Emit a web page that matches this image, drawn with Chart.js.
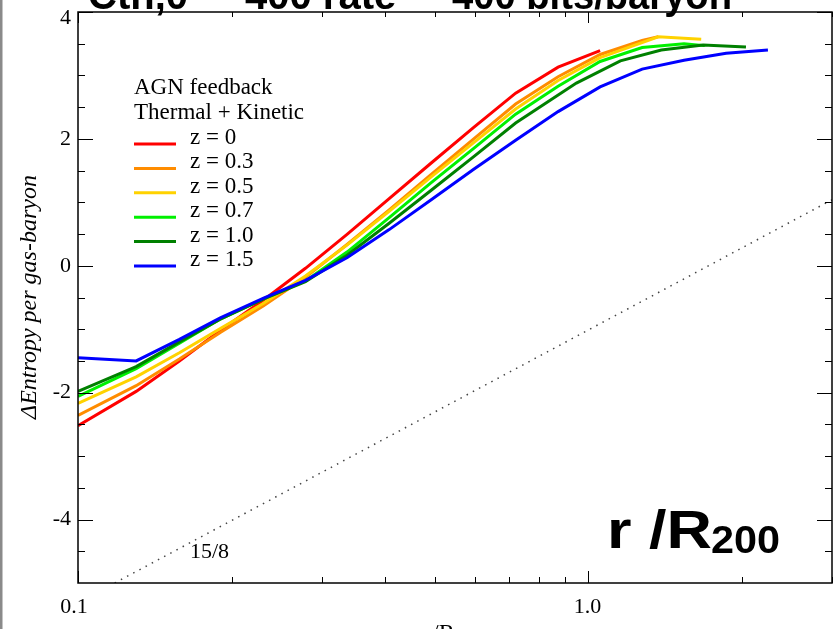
<!DOCTYPE html>
<html>
<head>
<meta charset="utf-8">
<script src="https://cdn.jsdelivr.net/npm/chart.js@4.4.1/dist/chart.umd.min.js"></script>
<style>
  html, body { margin: 0; padding: 0; background: #fff; }
  canvas { display: block; }
</style>
</head>
<body>
<canvas id="entropyChart" width="833" height="629" style="width:833px;height:629px"></canvas>
<script>
// r / R200 bins and delta entropy per gas-baryon
const rZ0  = [0.1, 0.130, 0.158, 0.190, 0.231, 0.279, 0.337, 0.407, 0.492, 0.596, 0.720, 0.872, 1.054];
const sZ0  = [-2.52, -1.98, -1.50, -1.02, -0.54, -0.04, 0.50, 1.06, 1.62, 2.18, 2.72, 3.13, 3.39];

const rZ03 = [0.1, 0.130, 0.158, 0.190, 0.231, 0.279, 0.337, 0.407, 0.492, 0.596, 0.720, 0.872, 1.054, 1.274, 1.370];
const sZ03 = [-2.36, -1.89, -1.47, -1.05, -0.63, -0.18, 0.34, 0.88, 1.44, 2.00, 2.55, 2.98, 3.33, 3.55, 3.61];

const rZ05 = [0.1, 0.130, 0.158, 0.190, 0.231, 0.279, 0.337, 0.407, 0.492, 0.596, 0.720, 0.872, 1.054, 1.370, 1.663];
const sZ05 = [-2.17, -1.75, -1.37, -0.99, -0.59, -0.16, 0.33, 0.86, 1.40, 1.94, 2.47, 2.92, 3.28, 3.61, 3.57];

const rZ07 = [0.1, 0.130, 0.158, 0.190, 0.231, 0.279, 0.337, 0.407, 0.492, 0.596, 0.720, 0.872, 1.054, 1.274, 1.539, 1.690];
const sZ07 = [-2.06, -1.62, -1.22, -0.84, -0.52, -0.24, 0.22, 0.76, 1.31, 1.85, 2.39, 2.83, 3.22, 3.44, 3.50, 3.47];

const rZ10 = [0.1, 0.130, 0.158, 0.190, 0.231, 0.279, 0.337, 0.407, 0.492, 0.596, 0.720, 0.947, 1.155, 1.389, 1.677, 2.035];
const sZ10 = [-1.98, -1.59, -1.20, -0.84, -0.52, -0.25, 0.17, 0.67, 1.19, 1.72, 2.25, 2.88, 3.23, 3.40, 3.48, 3.45];

const rZ15 = [0.1, 0.130, 0.158, 0.190, 0.231, 0.279, 0.337, 0.407, 0.492, 0.596, 0.720, 0.872, 1.054, 1.274, 1.539, 1.861, 2.247];
const sZ15 = [-1.45, -1.50, -1.16, -0.82, -0.51, -0.23, 0.13, 0.57, 1.04, 1.52, 1.98, 2.43, 2.82, 3.10, 3.24, 3.35, 3.40];

// 15/8 reference slope (dotted)
const rSlope = [0.118, 3.0];
const sSlope = [-5.0, 1.04];

const zLabels = ['z = 0', 'z = 0.3', 'z = 0.5', 'z = 0.7', 'z = 1.0', 'z = 1.5'];
const zColors = ['#ff0000', '#ff8c00', '#ffd200', '#00f000', '#008000', '#0000ff'];

// axis ticks
const xLabelTicks = [0.1, 1.0];
const xLabelText = ['0.1', '1.0'];
const xMinorTicks = [0.2, 0.3, 0.4, 0.5, 0.6, 0.7, 0.8, 0.9, 2.0, 3.0];
const yLabelTicks = [-4, -2, 0, 2, 4];
const yMinorTicks = [-4.5, -3.5, -3, -2.5, -1.5, -1, -0.5, 0.5, 1, 1.5, 2.5, 3, 3.5];

const serif = '"Liberation Serif", "DejaVu Serif", serif';
const sans = '"Liberation Sans", Arial, sans-serif';

function pts(rs, ss) {
  return rs.map((r, i) => ({ x: r, y: ss[i] }));
}

const seriesR = [rZ0, rZ03, rZ05, rZ07, rZ10, rZ15];
const seriesS = [sZ0, sZ03, sZ05, sZ07, sZ10, sZ15];

const datasets = zLabels.map((label, i) => ({
  label: label,
  data: pts(seriesR[i], seriesS[i]),
  borderColor: zColors[i],
  borderWidth: 3,
  pointRadius: 0,
  tension: 0,
  fill: false,
  order: zLabels.length - i
}));

datasets.push({
  label: '15/8',
  data: pts(rSlope, sSlope),
  borderColor: '#444',
  borderWidth: 1.5,
  borderDash: [1.5, 5.5],
  pointRadius: 0,
  tension: 0,
  fill: false,
  order: 10
});

// text stretched to a given width (the original label is wide)
function wideText(c, txt, x, y, width) {
  const w = c.measureText(txt).width;
  c.save();
  c.translate(x, y);
  c.scale(width / w, 1);
  c.fillText(txt, 0, 0);
  c.restore();
}

const framePlugin = {
  id: 'idlFrame',
  afterDraw(chart) {
    const c = chart.ctx;
    const a = chart.chartArea;
    const xs = chart.scales.x;
    const ys = chart.scales.y;
    c.save();

    // grey page border on the left
    c.fillStyle = '#8a8a8a';
    c.fillRect(0, 0, 2.5, 629);

    // box
    c.strokeStyle = '#000';
    c.lineWidth = 1.5;
    c.strokeRect(a.left, a.top, a.right - a.left, a.bottom - a.top);

    // ticks (drawn inward)
    c.lineWidth = 1;
    c.beginPath();
    yLabelTicks.forEach(v => {
      const p = Math.round(ys.getPixelForValue(v)) + 0.5;
      c.moveTo(a.left, p); c.lineTo(a.left + 15, p);
      c.moveTo(a.right, p); c.lineTo(a.right - 15, p);
    });
    yMinorTicks.forEach(v => {
      const p = Math.round(ys.getPixelForValue(v)) + 0.5;
      c.moveTo(a.left, p); c.lineTo(a.left + 7, p);
      c.moveTo(a.right, p); c.lineTo(a.right - 7, p);
    });
    xLabelTicks.forEach(v => {
      const p = Math.round(xs.getPixelForValue(v)) + 0.5;
      c.moveTo(p, a.bottom); c.lineTo(p, a.bottom - 12);
      c.moveTo(p, a.top); c.lineTo(p, a.top + 11);
    });
    xMinorTicks.forEach(v => {
      const p = Math.round(xs.getPixelForValue(v)) + 0.5;
      c.moveTo(p, a.bottom); c.lineTo(p, a.bottom - 6);
      c.moveTo(p, a.top); c.lineTo(p, a.top + 5);
    });
    c.stroke();

    // tick labels
    c.fillStyle = '#000';
    c.font = '22px ' + serif;
    c.textAlign = 'right';
    c.textBaseline = 'middle';
    yLabelTicks.forEach(v => {
      const p = Math.max(ys.getPixelForValue(v), 18);
      c.fillText(String(v), a.left - 7, p);
    });
    c.textAlign = 'center';
    xLabelTicks.forEach((v, i) => {
      const p = xs.getPixelForValue(v);
      c.fillText(xLabelText[i], p - (i === 0 ? 4 : 1), 607);
    });

    // axis titles
    c.save();
    c.translate(30, 297);
    c.rotate(-Math.PI / 2);
    c.font = 'italic 24px ' + serif;
    c.textAlign = 'center';
    c.fillText('\u0394Entropy per gas-baryon', 0, 0);
    c.restore();

    c.font = '24px ' + serif;
    c.textAlign = 'left';
    c.textBaseline = 'alphabetic';
    const rw = c.measureText('r ').width;
    c.fillText('r /R', 432 - rw, 640);
    c.font = '16px ' + serif;
    c.fillText('200', 432 + c.measureText('/R').width + 6, 645);

    // legend
    c.font = '23px ' + serif;
    c.textBaseline = 'middle';
    c.fillText('AGN feedback', 134, 88);
    c.fillText('Thermal + Kinetic', 134, 113);
    zLabels.forEach((label, i) => {
      const y = 144 + i * 24.4;
      c.strokeStyle = zColors[i];
      c.lineWidth = 3;
      c.beginPath();
      c.moveTo(134, y); c.lineTo(176, y);
      c.stroke();
      c.fillText(label, 190, y - 6);
    });

    // slope label
    c.font = '22px ' + serif;
    c.fillText('15/8', 190, 552);

    // big label
    c.textBaseline = 'alphabetic';
    c.font = 'bold 54px ' + sans;
    wideText(c, 'r /R', 607, 548, 105);
    c.font = 'bold 39px ' + sans;
    wideText(c, '200', 711, 553, 69);

    // clipped title at top
    c.font = 'bold 40px ' + sans;
    c.fillText('Cth,0', 88, 9);
    c.fillText('400 rate', 245, 9);
    wideText(c, '400 bits/baryon', 452, 9, 280);

    c.restore();
  }
};

new Chart(document.getElementById('entropyChart').getContext('2d'), {
  type: 'line',
  data: { datasets: datasets },
  options: {
    responsive: false,
    animation: false,
    layout: { padding: { left: 78, top: 12, right: 1, bottom: 46 } },
    plugins: { legend: { display: false }, tooltip: { enabled: false } },
    scales: {
      x: { type: 'logarithmic', min: 0.1, max: 3, display: false },
      y: { type: 'linear', min: -5, max: 4, display: false }
    }
  },
  plugins: [framePlugin]
});
</script>
</body>
</html>
